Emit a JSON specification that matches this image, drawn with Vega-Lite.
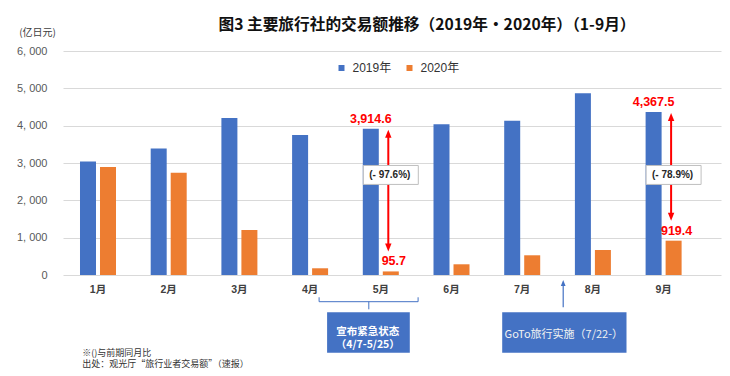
{
  "$schema": "https://vega.github.io/schema/vega-lite/v6.json",
  "width": 658,
  "height": 224,
  "autosize": {"type": "none"},
  "padding": {"left": 63, "top": 51, "right": 9, "bottom": 101},
  "background": "white",
  "title": {
    "text": "图3 主要旅行社的交易额推移（2019年・2020年）（1-9月）",
    "font": "Noto Sans CJK SC",
    "fontSize": 15.7,
    "fontWeight": "bold",
    "color": "#111111",
    "anchor": "middle",
    "frame": "group",
    "dx": 35,
    "offset": -7
  },
  "config": {"view": {"stroke": null}, "font": "Liberation Sans"},
  "datasets": {
    "sales": [
      {"month": "1月", "year": "2019年", "value": 3040},
      {"month": "1月", "year": "2020年", "value": 2890},
      {"month": "2月", "year": "2019年", "value": 3390},
      {"month": "2月", "year": "2020年", "value": 2740},
      {"month": "3月", "year": "2019年", "value": 4205},
      {"month": "3月", "year": "2020年", "value": 1205},
      {"month": "4月", "year": "2019年", "value": 3750},
      {"month": "4月", "year": "2020年", "value": 180},
      {"month": "5月", "year": "2019年", "value": 3914.6},
      {"month": "5月", "year": "2020年", "value": 95.7},
      {"month": "6月", "year": "2019年", "value": 4036},
      {"month": "6月", "year": "2020年", "value": 287},
      {"month": "7月", "year": "2019年", "value": 4130},
      {"month": "7月", "year": "2020年", "value": 528},
      {"month": "8月", "year": "2019年", "value": 4870},
      {"month": "8月", "year": "2020年", "value": 670},
      {"month": "9月", "year": "2019年", "value": 4367.5},
      {"month": "9月", "year": "2020年", "value": 919.4}
    ],
    "pct": [
      {"month": "5月", "label": "(- 97.6%)"},
      {"month": "9月", "label": "(- 78.9%)"}
    ],
    "notes": [
      {"id": "emergency", "label": "宣布紧急状态\n（4/7-5/25）"},
      {"id": "goto", "label": "GoTo旅行实施（7/22-）"}
    ],
    "blank": [{"id": "shape"}]
  },
  "layer": [
    {
      "data": {"name": "sales"},
      "mark": {"type": "bar"},
      "encoding": {
        "x": {
          "field": "month", "type": "nominal",
          "scale": {"domain": ["1月", "2月", "3月", "4月", "5月", "6月", "7月", "8月", "9月"], "paddingInner": 0.4908, "paddingOuter": 0.3988, "align": 0.3014, "round": false},
          "axis": {
            "title": ["※()与前期同月比", "出处：观光厅“旅行业者交易额”（速报）"],
            "titleFont": "Noto Sans CJK SC", "titleFontSize": 9, "titleFontWeight": "normal",
            "titleColor": "#333333", "titleAlign": "left", "titleX": 18.7, "titleY": 80,
            "titleBaseline": "alphabetic", "titleLineHeight": 11.6,
            "labelAngle": 0, "labelFont": "Liberation Sans, 'Noto Sans CJK SC'", "labelFontSize": 10.5,
            "labelFontWeight": "bold", "labelColor": "#404040", "labelPadding": 9,
            "ticks": false, "tickSize": 0, "domain": false, "grid": false
          }
        },
        "xOffset": {"field": "year", "type": "nominal", "scale": {"paddingInner": 0.2, "paddingOuter": 0}},
        "y": {
          "field": "value", "type": "quantitative",
          "scale": {"domain": [0, 6000], "nice": false},
          "axis": {
            "values": [0, 1000, 2000, 3000, 4000, 5000, 6000],
            "tickCount": 10,
            "labelOverlap": false,
            "grid": true,
            "labelExpr": "replace(format(datum.value, ','), ',', ', ')",
            "labelFont": "Liberation Sans", "labelFontSize": 11, "labelColor": "#595959", "labelPadding": 16,
            "ticks": false, "tickSize": 0, "domain": false,
            "gridColor": "#d9d9d9", "gridWidth": 1,
            "title": "(亿日元)", "titleAngle": 0, "titleX": -26, "titleY": -19,
            "titleAlign": "center", "titleBaseline": "middle",
            "titleFont": "Noto Sans CJK SC", "titleFontSize": 10, "titleFontWeight": "normal", "titleColor": "#404040"
          }
        },
        "color": {
          "field": "year", "type": "nominal",
          "scale": {"domain": ["2019年", "2020年"], "range": ["#4472C4", "#ED7D31"]},
          "legend": {
            "title": null, "orient": "none", "legendX": 272.5, "legendY": 11,
            "direction": "horizontal", "symbolType": "square", "symbolSize": 36, "symbolStrokeWidth": 0,
            "labelFont": "Liberation Sans, 'Noto Sans CJK SC'", "labelFontSize": 12, "labelColor": "#333333",
            "labelOffset": 5, "columnPadding": 12, "padding": 0
          }
        }
      }
    },
    {
      "data": {"name": "sales"},
      "transform": [
        {"filter": "(datum.month === '5月' || datum.month === '9月') && datum.year === '2019年'"}
      ],
      "mark": {"type": "text", "color": "#FF0000", "font": "Liberation Sans", "fontWeight": "bold", "fontSize": 12.5, "dy": -10, "xOffset": -10, "baseline": "middle"},
      "encoding": {
        "x": {"field": "month", "type": "nominal"},
        "y": {"field": "value", "type": "quantitative"},
        "text": {"field": "value", "type": "quantitative", "format": ",.1f"}
      }
    },
    {
      "data": {"name": "sales"},
      "transform": [
        {"filter": "(datum.month === '5月' || datum.month === '9月') && datum.year === '2020年'"}
      ],
      "mark": {"type": "text", "color": "#FF0000", "font": "Liberation Sans", "fontWeight": "bold", "fontSize": 12.5, "dy": -10, "xOffset": 13, "baseline": "middle"},
      "encoding": {
        "x": {"field": "month", "type": "nominal"},
        "y": {"field": "value", "type": "quantitative"},
        "text": {"field": "value", "type": "quantitative", "format": ",.1f"}
      }
    },
    {
      "data": {"name": "sales"},
      "transform": [
        {"pivot": "year", "value": "value", "groupby": ["month"]},
        {"filter": "datum.month === '5月' || datum.month === '9月'"}
      ],
      "mark": {"type": "rule", "color": "#FF0000", "strokeWidth": 2, "xOffset": 7.5, "yOffset": 7, "y2Offset": -25},
      "encoding": {
        "x": {"field": "month", "type": "nominal"},
        "y": {"field": "2019年", "type": "quantitative"},
        "y2": {"field": "2020年"}
      }
    },
    {
      "data": {"name": "sales"},
      "transform": [
        {"pivot": "year", "value": "value", "groupby": ["month"]},
        {"filter": "datum.month === '5月' || datum.month === '9月'"}
      ],
      "mark": {"type": "point", "shape": "M0,-1L0.8,1L-0.8,1Z", "filled": true, "color": "#FF0000", "opacity": 1, "size": 64, "xOffset": 7.5, "yOffset": 5},
      "encoding": {
        "x": {"field": "month", "type": "nominal"},
        "y": {"field": "2019年", "type": "quantitative"}
      }
    },
    {
      "data": {"name": "sales"},
      "transform": [
        {"pivot": "year", "value": "value", "groupby": ["month"]},
        {"filter": "datum.month === '5月' || datum.month === '9月'"}
      ],
      "mark": {"type": "point", "shape": "M0,1L0.8,-1L-0.8,-1Z", "filled": true, "color": "#FF0000", "opacity": 1, "size": 64, "xOffset": 7.5, "yOffset": -24},
      "encoding": {
        "x": {"field": "month", "type": "nominal"},
        "y": {"field": "2020年", "type": "quantitative"}
      }
    },
    {
      "data": {"name": "pct"},
      "mark": {"type": "point", "shape": "M-1,-0.345L1,-0.345L1,0.345L-1,0.345Z", "filled": true, "fill": "#FFFFFF", "stroke": "#BFBFBF", "strokeWidth": 1, "opacity": 1, "size": 3025, "xOffset": 10},
      "encoding": {
        "x": {"field": "month", "type": "nominal"},
        "y": {"datum": 2680, "type": "quantitative"}
      }
    },
    {
      "data": {"name": "pct"},
      "mark": {"type": "text", "font": "Liberation Sans", "fontSize": 10, "fontWeight": "bold", "color": "#262626", "xOffset": 9, "baseline": "middle"},
      "encoding": {
        "x": {"field": "month", "type": "nominal"},
        "y": {"datum": 2680, "type": "quantitative"},
        "text": {"field": "label"}
      }
    },
    {
      "data": {"name": "blank"},
      "mark": {"type": "rule", "color": "#4472C4", "strokeWidth": 1, "xOffset": 9, "x2Offset": 37.3},
      "encoding": {
        "x": {"datum": "4月"},
        "x2": {"datum": "5月"},
        "y": {"datum": -715, "type": "quantitative"}
      }
    },
    {
      "data": {"name": "blank"},
      "mark": {"type": "rule", "color": "#4472C4", "strokeWidth": 1, "xOffset": 9},
      "encoding": {
        "x": {"datum": "4月"},
        "y": {"datum": -715, "type": "quantitative"},
        "y2": {"datum": -597}
      }
    },
    {
      "data": {"name": "blank"},
      "mark": {"type": "rule", "color": "#4472C4", "strokeWidth": 1, "xOffset": 37.3},
      "encoding": {
        "x": {"datum": "5月"},
        "y": {"datum": -715, "type": "quantitative"},
        "y2": {"datum": -597}
      }
    },
    {
      "data": {"name": "blank"},
      "mark": {"type": "rule", "color": "#4472C4", "strokeWidth": 1, "xOffset": -12},
      "encoding": {
        "x": {"datum": "5月"},
        "y": {"datum": -715, "type": "quantitative"},
        "y2": {"datum": -919}
      }
    },
    {
      "data": {"name": "blank"},
      "mark": {"type": "rule", "color": "#4472C4", "strokeWidth": 40.4, "strokeCap": "butt", "xOffset": 17, "x2Offset": 29},
      "encoding": {
        "x": {"datum": "4月"},
        "x2": {"datum": "5月"},
        "y": {"datum": -1540, "type": "quantitative"}
      }
    },
    {
      "data": {"name": "notes"},
      "transform": [{"filter": "datum.id === 'emergency'"}],
      "mark": {"type": "text", "color": "#FFFFFF", "font": "Noto Sans CJK SC", "fontSize": 10.5, "fontWeight": "bold", "lineBreak": "\n", "lineHeight": 13, "baseline": "middle", "align": "center", "xOffset": -13},
      "encoding": {
        "x": {"datum": "5月"},
        "y": {"datum": -1540, "type": "quantitative"},
        "text": {"field": "label"}
      }
    },
    {
      "data": {"name": "blank"},
      "mark": {"type": "rule", "color": "#4472C4", "strokeWidth": 1.2, "xOffset": 41},
      "encoding": {
        "x": {"datum": "7月"},
        "y": {"datum": -865, "type": "quantitative"},
        "y2": {"datum": -260}
      }
    },
    {
      "data": {"name": "blank"},
      "mark": {"type": "point", "shape": "M0,-1L0.8,1L-0.8,1Z", "filled": true, "color": "#4472C4", "opacity": 1, "size": 36, "xOffset": 41, "yOffset": 3},
      "encoding": {
        "x": {"datum": "7月"},
        "y": {"datum": -134, "type": "quantitative"}
      }
    },
    {
      "data": {"name": "blank"},
      "mark": {"type": "rule", "color": "#4472C4", "strokeWidth": 40.4, "strokeCap": "butt", "xOffset": -20, "x2Offset": 33.6},
      "encoding": {
        "x": {"datum": "7月"},
        "x2": {"datum": "8月"},
        "y": {"datum": -1540, "type": "quantitative"}
      }
    },
    {
      "data": {"name": "notes"},
      "transform": [{"filter": "datum.id === 'goto'"}],
      "mark": {"type": "text", "color": "#F2F2F2", "font": "Noto Sans CJK SC", "fontSize": 11, "baseline": "middle", "align": "center", "xOffset": 41.6},
      "encoding": {
        "x": {"datum": "7月"},
        "y": {"datum": -1607, "type": "quantitative"},
        "text": {"field": "label"}
      }
    }
  ]
}
